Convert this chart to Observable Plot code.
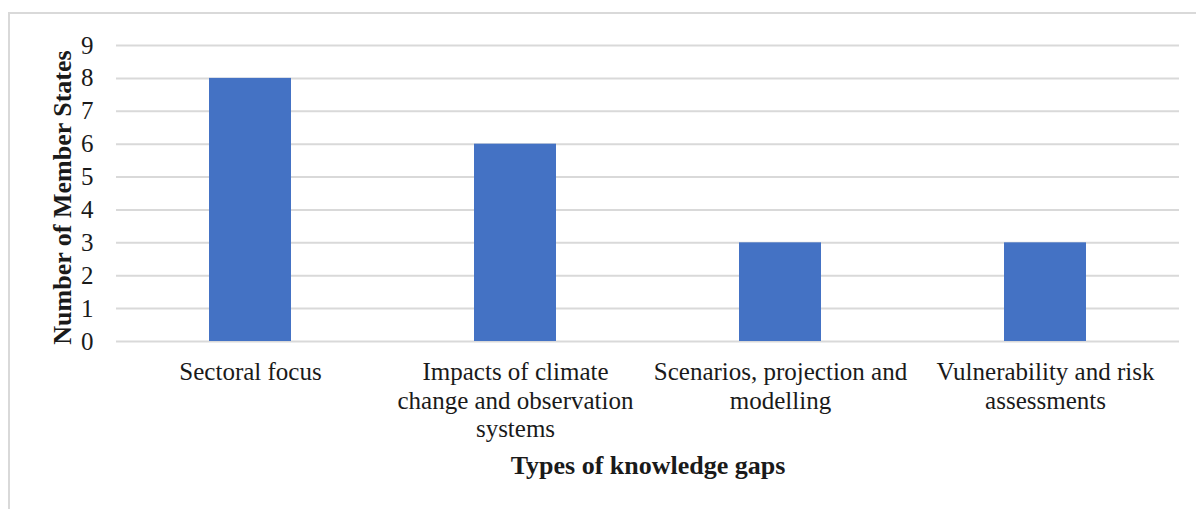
<!DOCTYPE html>
<html>
<head>
<meta charset="utf-8">
<script src="https://cdn.jsdelivr.net/npm/d3@7"></script>
<script src="https://cdn.jsdelivr.net/npm/@observablehq/plot@0.6"></script>
<style>
  html, body { margin: 0; padding: 0; background: #fff; overflow: hidden; }
  #wrap { position: relative; width: 1196px; height: 509px; }
  #border { position: absolute; left: 8px; top: 12px; width: 1200px; height: 520px; border: 2px solid #d9d9d9; box-sizing: border-box; }
  #chart { position: absolute; left: 0; top: 0; }
</style>
</head>
<body>
<div id="wrap"><div id="border"></div><div id="chart"></div></div>
<script>
const categories = [
  "Sectoral focus",
  "Impacts of climate\nchange and observation\nsystems",
  "Scenarios, projection and\nmodelling",
  "Vulnerability and risk\nassessments"
];
const values = [8, 6, 3, 3];
const yTicks = [0, 1, 2, 3, 4, 5, 6, 7, 8, 9];
const xTitle = "Types of knowledge gaps";
const yTitle = "Number of Member States";

const data = categories.map((c, i) => ({category: c, value: values[i]}));

const chart = Plot.plot({
  width: 1196,
  height: 509,
  marginLeft: 116,
  marginRight: 17,
  marginTop: 45,
  marginBottom: 168,
  style: {fontFamily: "'Liberation Serif', 'Times New Roman', serif", fontSize: "25px", color: "#1a1a1a", background: "transparent"},
  x: {domain: categories, paddingInner: 0.69, paddingOuter: 0.345, label: null},
  y: {domain: [0, 9], label: null},
  marks: [
    Plot.gridY(yTicks, {stroke: "#d9d9d9", strokeOpacity: 1, strokeWidth: 2}),
    Plot.barY(data, {x: "category", y: "value", fill: "#4472C4"}),
    Plot.axisY(yTicks, {tickSize: 0, tickPadding: 23, label: null, fontSize: 25}),
    Plot.axisX({tickSize: 0, tickPadding: 18, label: null, fontSize: 25, lineHeight: 1.15, textAnchor: "middle"}),
    Plot.text([yTitle], {frameAnchor: "left", dx: -54, dy: 4, rotate: -90, textAnchor: "middle", text: d => d, fontWeight: "bold", fontSize: 26, fill: "#1a1a1a"}),
    Plot.text([xTitle], {frameAnchor: "bottom", dy: 132, text: d => d, fontWeight: "bold", fontSize: 26, fill: "#1a1a1a"})
  ]
});
document.getElementById("chart").appendChild(chart);
</script>
</body>
</html>
